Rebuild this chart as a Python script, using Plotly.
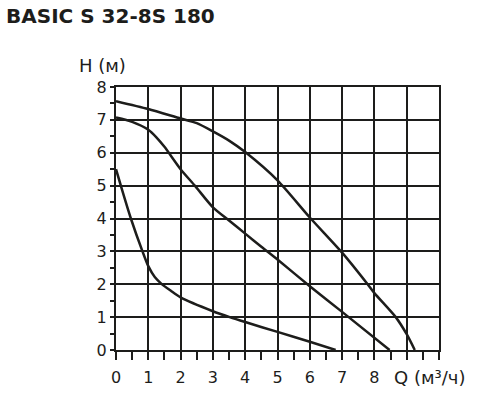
import plotly.graph_objects as go

# Data
q_top = [0, 1, 2, 2.5, 3, 3.5, 4, 5, 6, 7, 7.79, 8, 8.66, 9, 9.25]
h_top = [7.57, 7.33, 7.04, 6.9, 6.65, 6.37, 6.02, 5.16, 4.03, 2.96, 2.0, 1.73, 1.0, 0.48, 0.0]

q_mid = [0, 0.5, 1, 1.25, 1.5, 2, 2.44, 3, 3.5, 4, 4.5, 5, 6, 7, 8.47]
h_mid = [7.07, 6.94, 6.7, 6.47, 6.18, 5.5, 5.0, 4.34, 3.94, 3.54, 3.14, 2.75, 1.94, 1.16, 0.0]

q_low = [0, 0.2, 0.46, 0.82, 1.0, 1.2, 1.4, 1.7, 2, 3, 3.52, 4, 5, 6, 6.8]
h_low = [5.5, 4.83, 4.0, 3.0, 2.55, 2.22, 2.02, 1.8, 1.6, 1.18, 1.0, 0.85, 0.55, 0.25, 0.0]

x_tickvals = [0, 1, 2, 3, 4, 5, 6, 7, 8, 9, 10]
x_ticktext = ["0", "1", "2", "3", "4", "5", "6", "7", "8", "", ""]
y_tickvals = [0, 1, 2, 3, 4, 5, 6, 7, 8]

title_text = "BASIC S 32-8S 180"
y_title = "H (м)"
x_title = "Q (м³/ч)"

ink = "#1d1d1b"
font = "DejaVu Sans"

fig = go.Figure()
for q, h in [(q_top, h_top), (q_mid, h_mid), (q_low, h_low)]:
    fig.add_trace(go.Scatter(x=q, y=h, mode="lines",
                             line=dict(color=ink, width=2.5, shape="spline", smoothing=0.7),
                             showlegend=False, hoverinfo="skip"))

fig.update_layout(
    width=478, height=399,
    margin=dict(l=116, r=39, t=87, b=46),
    paper_bgcolor="white", plot_bgcolor="white",
    font=dict(family=font, size=16, color=ink),
    showlegend=False,
)
fig.update_xaxes(
    range=[0, 10], tickvals=x_tickvals, ticktext=x_ticktext,
    showgrid=True, gridcolor=ink, gridwidth=2,
    showline=True, linecolor=ink, linewidth=2, mirror=True,
    ticks="outside", ticklen=8, tickwidth=2, tickcolor=ink,
    minor=dict(dtick=0.5, tick0=0, ticks="outside", ticklen=8, tickwidth=2, tickcolor=ink, showgrid=False),
    zeroline=False, ticklabelstandoff=4,
)
fig.update_yaxes(
    range=[0, 8], tickvals=y_tickvals,
    showgrid=True, gridcolor=ink, gridwidth=2,
    showline=True, linecolor=ink, linewidth=2, mirror=True,
    ticks="outside", ticklen=4, tickwidth=2, tickcolor=ink,
    minor=dict(dtick=0.5, tick0=0, ticks="outside", ticklen=4, tickwidth=2, tickcolor=ink, showgrid=False),
    zeroline=False, ticklabelstandoff=0,
)

fig.add_annotation(text="<b>" + title_text + "</b>", xref="paper", yref="paper",
                   x=(4 - 116) / 323, y=(353 - 15) / 266, xanchor="left", yanchor="middle",
                   showarrow=False, font=dict(family=font, size=20, color=ink))
fig.add_annotation(text=y_title, xref="paper", yref="paper",
                   x=(77 - 116) / 323, y=(353 - 65) / 266, xanchor="left", yanchor="middle",
                   showarrow=False, font=dict(family=font, size=18, color=ink))
fig.add_annotation(text=x_title, xref="paper", yref="paper",
                   x=(392 - 116) / 323, y=-(381 - 353) / 266, xanchor="left", yanchor="middle",
                   showarrow=False, font=dict(family=font, size=18, color=ink))

fig.write_html("out.html")
